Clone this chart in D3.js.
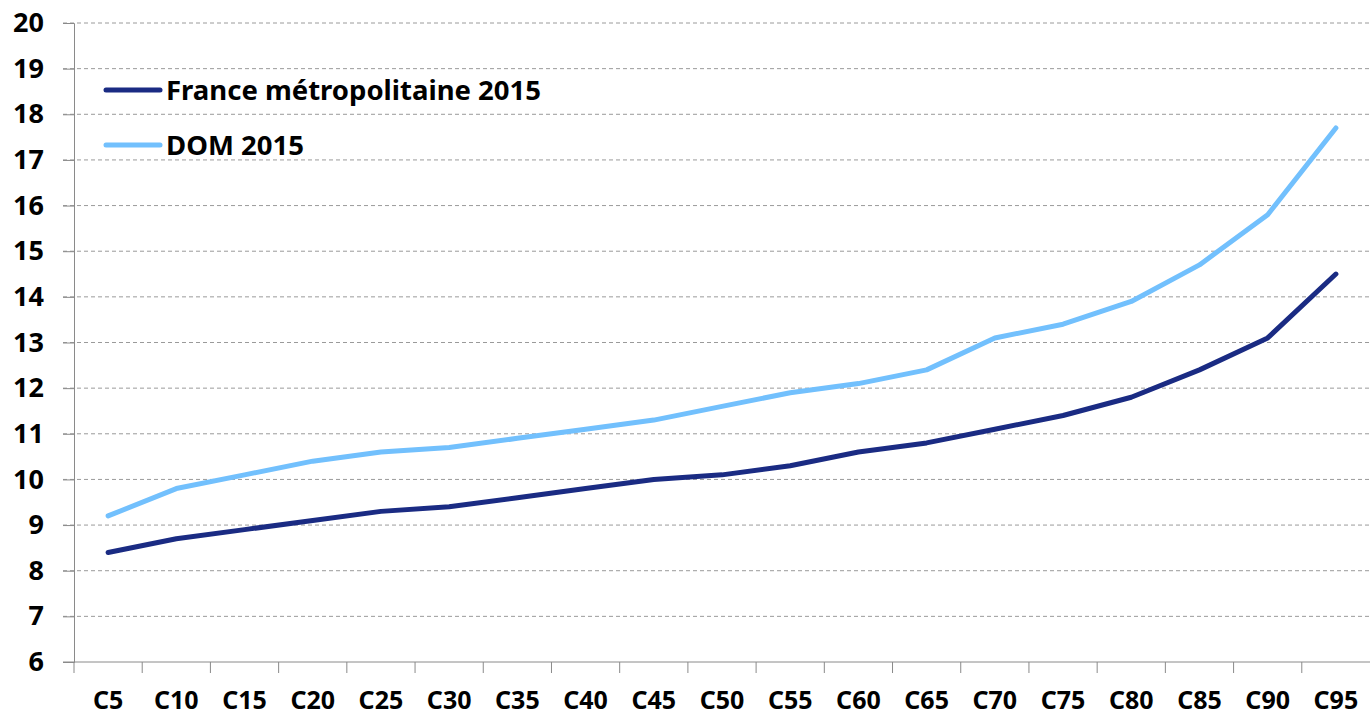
<!DOCTYPE html>
<html>
<head>
<meta charset="utf-8">
<script src="https://cdn.jsdelivr.net/npm/d3@7"></script>
<style>
  body { margin: 0; background: #fff; }
  svg { display: block; font-family: "Noto Sans", sans-serif; font-weight: bold; }
</style>
</head>
<body>
<svg width="1370" height="717"></svg>
<script>
// centiles
var categories = ["C5","C10","C15","C20","C25","C30","C35","C40","C45","C50","C55","C60","C65","C70","C75","C80","C85","C90","C95"];
var franceValues = [8.4, 8.7, 8.9, 9.1, 9.3, 9.4, 9.6, 9.8, 10.0, 10.1, 10.3, 10.6, 10.8, 11.1, 11.4, 11.8, 12.4, 13.1, 14.5];
var domValues = [9.2, 9.8, 10.1, 10.4, 10.6, 10.7, 10.9, 11.1, 11.3, 11.6, 11.9, 12.1, 12.4, 13.1, 13.4, 13.9, 14.7, 15.8, 17.7];
var yTicks = [6,7,8,9,10,11,12,13,14,15,16,17,18,19,20];
var seriesNames = ["France métropolitaine 2015", "DOM 2015"];
var seriesColors = ["#1a2b83", "#72c0fd"];

var plotL = 74, plotR = 1370, plotT = 23, plotB = 662;

var svg = d3.select("svg");

var x = d3.scaleBand().domain(categories).range([plotL, plotR]);
var y = d3.scaleLinear().domain([6, 20]).range([plotB, plotT]);

// grid
svg.append("g").selectAll("line").data(yTicks.slice(1)).enter().append("line")
  .attr("x1", plotL - 11).attr("x2", plotR)
  .attr("y1", function(d){ return y(d); }).attr("y2", function(d){ return y(d); })
  .attr("stroke", "#9a9a9a").attr("stroke-width", 1).attr("stroke-dasharray", "4,3");

// y axis
var yAxis = svg.append("g").attr("transform", "translate(" + plotL + ",0)")
  .call(d3.axisLeft(y).tickValues(yTicks).tickSize(11).tickPadding(19));
yAxis.select(".domain").attr("stroke", "#8a8a8a");
yAxis.selectAll(".tick line").attr("stroke", "#8a8a8a");
yAxis.selectAll("text").attr("fill", "#000").style("font-size", "27px").style("font-family", "Noto Sans").style("font-weight", "bold");

// x axis
var xAxisG = svg.append("g");
xAxisG.append("line").attr("x1", plotL - 11).attr("x2", plotR).attr("y1", plotB).attr("y2", plotB).attr("stroke", "#8a8a8a");
xAxisG.selectAll("line.t").data(categories).enter().append("line").attr("class", "t")
  .attr("x1", function(d){ return x(d); }).attr("x2", function(d){ return x(d); })
  .attr("y1", plotB).attr("y2", plotB + 11).attr("stroke", "#8a8a8a");
xAxisG.selectAll("text").data(categories).enter().append("text")
  .attr("x", function(d){ return x(d) + x.bandwidth() / 2; })
  .attr("y", 709).attr("text-anchor", "middle")
  .style("font-size", "25px").text(function(d){ return d; });

// lines
var line = d3.line()
  .x(function(d, i){ return x(categories[i]) + x.bandwidth() / 2; })
  .y(function(d){ return y(d); });

[franceValues, domValues].forEach(function(vals, k){
  svg.append("path").datum(vals).attr("d", line)
    .attr("fill", "none").attr("stroke", seriesColors[k])
    .attr("stroke-width", 5).attr("stroke-linejoin", "round").attr("stroke-linecap", "round");
});

// legend
var legend = svg.append("g");
seriesNames.forEach(function(name, k){
  var ly = 90 + k * 55;
  legend.append("line").attr("x1", 106).attr("x2", 160).attr("y1", ly).attr("y2", ly)
    .attr("stroke", seriesColors[k]).attr("stroke-width", 5).attr("stroke-linecap", "round");
  legend.append("text").attr("x", 166).attr("y", ly + 10)
    .style("font-size", "27.5px").text(name);
});
</script>
</body>
</html>
